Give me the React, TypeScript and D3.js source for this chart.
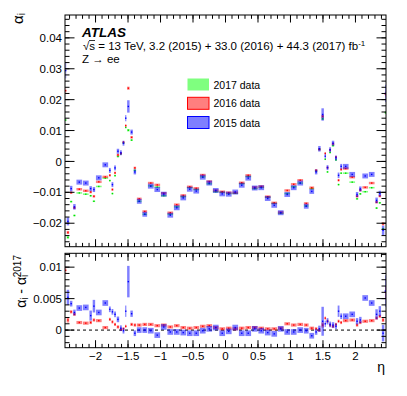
import React from 'react';
import * as d3 from 'd3';

// eta bin edges (68 bins)
const etaEdges = [
  -2.47, -2.45, -2.4, -2.35, -2.3, -2.2, -2.1, -2.05, -2.0, -1.9, -1.8, -1.76, -1.72, -1.68, -1.63, -1.59, -1.55,
  -1.52, -1.47, -1.42, -1.37, -1.285, -1.2, -1.1, -1.0, -0.9, -0.8, -0.7, -0.6, -0.5, -0.4, -0.3, -0.2, -0.1, 0,
  0.1, 0.2, 0.3, 0.4, 0.5, 0.6, 0.7, 0.8, 0.9, 1.0, 1.1, 1.2, 1.285, 1.37, 1.42, 1.47, 1.52, 1.55, 1.59, 1.63,
  1.68, 1.72, 1.76, 1.8, 1.9, 2.0, 2.05, 2.1, 2.2, 2.3, 2.35, 2.4, 2.45, 2.47,
];

const alpha2015 = [
  0.0294, -0.0194, -0.0088, -0.0147, -0.0067, -0.0070, -0.0088, -0.0091, -0.0053, -0.0011, -0.0029, -0.0075,
  -0.0021, 0.0033, 0.0028, 0.0059, 0.0140, 0.0178, 0.0095, -0.0034, -0.0129, -0.0171, -0.0080, -0.0091, -0.0106,
  -0.0174, -0.0150, -0.0118, -0.0090, -0.0096, -0.0051, -0.0070, -0.0094, -0.0105,
  -0.0106, -0.0099, -0.0077, -0.0054, -0.0086, -0.0085, -0.0120, -0.0142, -0.0166, -0.0107, -0.0085, -0.0070,
  -0.0145, -0.0097, -0.0034, 0.0041, 0.0152, 0.0017, -0.0020, 0.0038, 0.0059, 0.0011, -0.0045, -0.0016, -0.0016,
  -0.0042, -0.0107, -0.0089, -0.0047, -0.0042, -0.0126, -0.0104, -0.0223, 0.0220,
];
const alpha2016 = [
  0.0229, -0.0230, -0.0101, -0.0150, -0.0090, -0.0095, -0.0099, -0.0113, -0.0066, -0.0050, -0.0045, -0.0091,
  -0.0037, 0.0021, 0.0026, 0.0062, 0.0116, 0.0237, 0.0078, -0.0021, -0.0121, -0.0162, -0.0070, -0.0076, -0.0103,
  -0.0166, -0.0140, -0.0110, -0.0082, -0.0087, -0.0044, -0.0065, -0.0094, -0.0098,
  -0.0101, -0.0101, -0.0069, -0.0045, -0.0084, -0.0081, -0.0114, -0.0134, -0.0165, -0.0094, -0.0074, -0.0061,
  -0.0136, -0.0085, -0.0029, 0.0039, 0.0146, 0.0026, -0.0020, 0.0037, 0.0057, 0.0014, -0.0061, -0.0026, -0.0023,
  -0.0051, -0.0113, -0.0093, -0.0084, -0.0070, -0.0132, -0.0112, -0.0202, 0.0218,
];
const alpha2017 = [
  0.0134, -0.0246, -0.0130, -0.0175, -0.0102, -0.0106, -0.0111, -0.0129, -0.0081, -0.0054, -0.0062, -0.0104,
  -0.0046, 0.0016, 0.0025, 0.0060, 0.0110, 0.0101, 0.0069, -0.0029, -0.0129, -0.0171, -0.0079, -0.0083, -0.0111,
  -0.0171, -0.0147, -0.0114, -0.0085, -0.0091, -0.0050, -0.0072, -0.0098, -0.0100,
  -0.0104, -0.0103, -0.0072, -0.0049, -0.0088, -0.0084, -0.0116, -0.0136, -0.0168, -0.0104, -0.0082, -0.0070,
  -0.0144, -0.0088, -0.0031, 0.0039, 0.0138, 0.0007, -0.0034, 0.0029, 0.0051, 0.0005, -0.0075, -0.0038, -0.0038,
  -0.0067, -0.0121, -0.0105, -0.0098, -0.0085, -0.0151, -0.0134, -0.0218, 0.0158,
];
const err2015 = [
  0.0025, 0.0013, 0.0009, 0.0009, 0.0008, 0.0008, 0.0008, 0.0008, 0.0008, 0.0008, 0.0008, 0.0008, 0.0008, 0.0008,
  0.0008, 0.0008, 0.0010, 0.0020, 0.0008, 0.0008, 0.0008, 0.0008, 0.0008, 0.0008, 0.0008, 0.0008, 0.0008, 0.0008,
  0.0008, 0.0008, 0.0008, 0.0008, 0.0008, 0.0008, 0.0008, 0.0008, 0.0008, 0.0008, 0.0008, 0.0008, 0.0008, 0.0008,
  0.0008, 0.0008, 0.0008, 0.0008, 0.0008, 0.0008, 0.0008, 0.0009, 0.0020, 0.0008, 0.0008, 0.0008, 0.0008, 0.0008,
  0.0009, 0.0008, 0.0008, 0.0008, 0.0008, 0.0008, 0.0008, 0.0008, 0.0009, 0.0009, 0.0015, 0.0028,
];
const err2016 = [
  0.0007, 0.0005, 0.0004, 0.0004, 0.0004, 0.0004, 0.0004, 0.0004, 0.0004, 0.0004, 0.0004, 0.0004, 0.0004, 0.0004,
  0.0004, 0.0004, 0.0004, 0.0005, 0.0004, 0.0004, 0.0004, 0.0004, 0.0004, 0.0004, 0.0004, 0.0004, 0.0004, 0.0004,
  0.0004, 0.0004, 0.0004, 0.0004, 0.0004, 0.0004, 0.0004, 0.0004, 0.0004, 0.0004, 0.0004, 0.0004, 0.0004, 0.0004,
  0.0004, 0.0004, 0.0004, 0.0004, 0.0004, 0.0004, 0.0004, 0.0004, 0.0005, 0.0004, 0.0004, 0.0004, 0.0004, 0.0004,
  0.0004, 0.0004, 0.0004, 0.0004, 0.0004, 0.0004, 0.0004, 0.0004, 0.0004, 0.0004, 0.0005, 0.0008,
];
const err2017 = [
  0.0004, 0.0004, 0.00025, 0.00025, 0.00025, 0.00025, 0.00025, 0.00025, 0.00025, 0.00025, 0.00025, 0.00025,
  0.00025, 0.00025, 0.00025, 0.00025, 0.00025, 0.0004, 0.00025, 0.00025, 0.00025, 0.00025, 0.00025, 0.00025,
  0.00025, 0.00025, 0.00025, 0.00025, 0.00025, 0.00025, 0.00025, 0.00025, 0.00025, 0.00025, 0.00025, 0.00025,
  0.00025, 0.00025, 0.00025, 0.00025, 0.00025, 0.00025, 0.00025, 0.00025, 0.00025, 0.00025, 0.00025, 0.00025,
  0.00025, 0.00025, 0.0004, 0.00025, 0.00025, 0.00025, 0.00025, 0.00025, 0.00025, 0.00025, 0.00025, 0.00025,
  0.00025, 0.00025, 0.00025, 0.00025, 0.00025, 0.00025, 0.0003, 0.0005,
];

// ratio pad: alpha_i - alpha_i(2017)
const diff2015 = [
  0.0160, 0.0052, 0.0042, 0.0028, 0.0035, 0.0036, 0.0023, 0.0038, 0.0028, 0.0043, 0.0033, 0.0029, 0.0025, 0.0017,
  0.0003, -0.0001, 0.0030, 0.0077, 0.0026, -0.0005, 0.0000, 0.0000, -0.0001, -0.0008, 0.0005, -0.0003, -0.0003,
  -0.0004, -0.0005, -0.0005, -0.0001, 0.0002, 0.0004, -0.0005,
  -0.0002, 0.0004, -0.0005, -0.0005, 0.0002, -0.0001, -0.0004, -0.0006, 0.0002, -0.0003, -0.0003, 0.0000, -0.0001,
  -0.0009, -0.0003, 0.0002, 0.0014, 0.0010, 0.0014, 0.0009, 0.0008, 0.0006, 0.0030, 0.0022, 0.0022, 0.0025,
  0.0014, 0.0016, 0.0051, 0.0043, 0.0025, 0.0030, -0.0005, 0.0062,
];
const diff2016 = [
  0.0095, 0.0016, 0.0029, 0.0025, 0.0012, 0.0011, 0.0012, 0.0016, 0.0015, 0.0004, 0.0017, 0.0013, 0.0009, 0.0005,
  0.0001, 0.0002, 0.0006, 0.0136, 0.0009, 0.0008, 0.0008, 0.0009, 0.0009, 0.0007, 0.0008, 0.0005, 0.0007, 0.0004,
  0.0003, 0.0004, 0.0006, 0.0007, 0.0004, 0.0002,
  0.0003, 0.0002, 0.0003, 0.0004, 0.0004, 0.0003, 0.0002, 0.0002, 0.0003, 0.0010, 0.0008, 0.0009, 0.0008, 0.0003,
  0.0002, 0.0000, 0.0008, 0.0019, 0.0014, 0.0008, 0.0006, 0.0009, 0.0014, 0.0012, 0.0015, 0.0016, 0.0008, 0.0012,
  0.0014, 0.0015, 0.0019, 0.0022, 0.0016, 0.0060,
];
const errDiff2015 = [
  0.0025, 0.0012, 0.00045, 0.00045, 0.00045, 0.00045, 0.0008, 0.0010, 0.00045, 0.00045, 0.00045, 0.00045, 0.00045,
  0.00045, 0.00045, 0.00045, 0.0009, 0.0025, 0.0005, 0.00045, 0.00045, 0.00045, 0.00045, 0.00045, 0.00045, 0.00045,
  0.00045, 0.00045, 0.00045, 0.00045, 0.00045, 0.00045, 0.00045, 0.00045, 0.00045, 0.00045, 0.00045, 0.00045,
  0.00045, 0.00045, 0.00045, 0.00045, 0.00045, 0.00045, 0.00045, 0.00045, 0.00045, 0.00045, 0.00045, 0.0005,
  0.0023, 0.0005, 0.0005, 0.00045, 0.00045, 0.00045, 0.0009, 0.00045, 0.00045, 0.00045, 0.0005, 0.0005, 0.00045,
  0.00045, 0.0008, 0.0008, 0.0013, 0.0025,
];
const errDiff2016 = [
  0.0006, 0.0004, 0.00025, 0.00025, 0.00025, 0.00025, 0.00025, 0.00025, 0.00025, 0.00025, 0.00025, 0.00025,
  0.00025, 0.00025, 0.00025, 0.00025, 0.00025, 0.0006, 0.00025, 0.00025, 0.00025, 0.00025, 0.00025, 0.00025,
  0.00025, 0.00025, 0.00025, 0.00025, 0.00025, 0.00025, 0.00025, 0.00025, 0.00025, 0.00025, 0.00025, 0.00025,
  0.00025, 0.00025, 0.00025, 0.00025, 0.00025, 0.00025, 0.00025, 0.00025, 0.00025, 0.00025, 0.00025, 0.00025,
  0.00025, 0.00025, 0.0004, 0.00025, 0.00025, 0.00025, 0.00025, 0.00025, 0.00025, 0.00025, 0.00025, 0.00025,
  0.00025, 0.00025, 0.00025, 0.00025, 0.00025, 0.00025, 0.0003, 0.0010,
];

const xTickValues = [-2, -1.5, -1, -0.5, 0, 0.5, 1, 1.5, 2];
const xTickLabels = ['−2', '−1.5', '−1', '−0.5', '0', '0.5', '1', '1.5', '2'];
const yTopTickValues = [-0.02, -0.01, 0, 0.01, 0.02, 0.03, 0.04];
const yTopTickLabels = ['−0.02', '−0.01', '0', '0.01', '0.02', '0.03', '0.04'];
const yBotTickValues = [0, 0.005, 0.01];
const yBotTickLabels = ['0', '0.005', '0.01'];
const legendLabels = ['2017 data', '2016 data', '2015 data'];

const FONT = '"Liberation Sans", Arial, Helvetica, sans-serif';
const L = 65;
const R = 386;
const TOP = { y0: 15, y1: 246.7 };
const BOT = { y0: 253.3, y1: 347.7 };

const x = d3.scaleLinear().domain([-2.47, 2.47]).range([L, R]);
const yTop = d3.scaleLinear().domain([-0.0276, 0.0474]).range([TOP.y1, TOP.y0]);
const yBot = d3.scaleLinear().domain([-0.0028, 0.0122]).range([BOT.y1, BOT.y0]);

const xMinor = d3.range(-24, 25).map((i) => i / 10);
const yTopMinor = d3.range(-13, 24).map((i) => i * 0.002);
const yBotMinor = d3.range(-2, 13).map((i) => i * 0.001);

const Series = ({ values, errors, y, fill, dot }: any) => (
  <g>
    {values.map((v: number, i: number) => {
      const x0 = x(etaEdges[i]) + 0.4;
      const x1 = x(etaEdges[i + 1]) - 0.4;
      const t = y(v + errors[i]);
      const b = y(v - errors[i]);
      return (
        <g key={i}>
          <rect x={x0} y={t} width={Math.max(x1 - x0, 0.8)} height={Math.max(b - t, 1)} fill={fill} />
          <rect x={(x0 + x1) / 2 - 0.7} y={y(v) - 0.7} width={1.4} height={1.4} fill={dot} />
        </g>
      );
    })}
  </g>
);

const Frame = ({ y, pad, major, labels, minor }: any) => {
  const [lo, hi] = y.domain();
  return (
    <g stroke="black" strokeWidth={1}>
      {minor.filter((v: number) => v >= lo && v <= hi).map((v: number) => (
        <g key={'m' + v}>
          <line x1={L} x2={L + 4.5} y1={y(v)} y2={y(v)} />
          <line x1={R} x2={R - 4.5} y1={y(v)} y2={y(v)} />
        </g>
      ))}
      {major.map((v: number) => (
        <g key={'M' + v}>
          <line x1={L} x2={L + 9.5} y1={y(v)} y2={y(v)} />
          <line x1={R} x2={R - 9.5} y1={y(v)} y2={y(v)} />
        </g>
      ))}
      {xMinor.map((v) => (
        <g key={'xm' + v}>
          <line x1={x(v)} x2={x(v)} y1={pad.y0} y2={pad.y0 + 3.8} />
          <line x1={x(v)} x2={x(v)} y1={pad.y1} y2={pad.y1 - 3.8} />
        </g>
      ))}
      {xTickValues.map((v) => (
        <g key={'xM' + v}>
          <line x1={x(v)} x2={x(v)} y1={pad.y0} y2={pad.y0 + 7.5} />
          <line x1={x(v)} x2={x(v)} y1={pad.y1} y2={pad.y1 - 7.5} />
        </g>
      ))}
      <rect x={L} y={pad.y0} width={R - L} height={pad.y1 - pad.y0} fill="none" />
      <g stroke="none" fill="black" fontFamily={FONT} fontSize={11.5} textAnchor="end">
        {major.map((v: number, i: number) => (
          <text key={'l' + v} x={62} y={y(v)} dy="0.36em">{labels[i]}</text>
        ))}
      </g>
    </g>
  );
};

const legendFills = ['rgba(0,255,0,0.5)', 'rgba(255,0,0,0.5)', 'rgba(0,0,255,0.5)'];
const legendStrokes = ['none', '#ff0000', '#0000ff'];

export default function App() {
  return (
    <svg width={407} height={396} style={{ position: 'absolute', left: 0, top: 0, background: 'white' }}>
      <defs>
        <clipPath id="clipTop"><rect x={L} y={TOP.y0} width={R - L} height={TOP.y1 - TOP.y0} /></clipPath>
        <clipPath id="clipBot"><rect x={L} y={BOT.y0} width={R - L} height={BOT.y1 - BOT.y0} /></clipPath>
      </defs>
      <rect width={407} height={396} fill="white" />

      {/* upper pad */}
      <g clipPath="url(#clipTop)">
        <Series values={alpha2017} errors={err2017} y={yTop} fill="rgba(0,255,0,0.5)" dot="#00dd00" />
        <Series values={alpha2016} errors={err2016} y={yTop} fill="rgba(255,0,0,0.5)" dot="#ff0000" />
        <Series values={alpha2015} errors={err2015} y={yTop} fill="rgba(0,0,255,0.5)" dot="#0000ff" />
      </g>
      <Frame y={yTop} pad={TOP} major={yTopTickValues} labels={yTopTickLabels} minor={yTopMinor} />

      {/* lower pad */}
      <g clipPath="url(#clipBot)">
        <line x1={L} x2={R} y1={yBot(0)} y2={yBot(0)} stroke="black" strokeDasharray="3,3" strokeWidth={1} />
        <Series values={diff2016} errors={errDiff2016} y={yBot} fill="rgba(255,0,0,0.5)" dot="#ff0000" />
        <Series values={diff2015} errors={errDiff2015} y={yBot} fill="rgba(0,0,255,0.5)" dot="#0000ff" />
      </g>
      <Frame y={yBot} pad={BOT} major={yBotTickValues} labels={yBotTickLabels} minor={yBotMinor} />

      <g fontFamily={FONT} fontSize={11.5} textAnchor="middle">
        {xTickValues.map((v, i) => (
          <text key={v} x={x(v)} y={359.5}>{xTickLabels[i]}</text>
        ))}
      </g>
      <text x={385} y={371.5} fontFamily={FONT} fontSize={14} textAnchor="end">η</text>

      {/* axis titles */}
      <text transform="translate(23,13) rotate(-90)" fontFamily={FONT} fontSize={15} textAnchor="end">
        α<tspan fontSize={10} dy={1.5}>i</tspan>
      </text>
      <text transform="translate(26,255) rotate(-90)" fontFamily={FONT} fontSize={14} textAnchor="end">
        α<tspan fontSize={10} dy={2}>i</tspan>
        <tspan dy={-2}> - α</tspan>
        <tspan fontSize={10} dy={2}>i</tspan>
        <tspan fontSize={10} dx={-2.5} dy={-7}>2017</tspan>
      </text>

      {/* labels */}
      <text x={82} y={36.7} fontFamily={FONT} fontSize={13.5} fontWeight="bold" fontStyle="italic">ATLAS</text>
      <text x={83} y={50} fontFamily={FONT} fontSize={11.5}>
        √s = 13 TeV, 3.2 (2015) + 33.0 (2016) + 44.3 (2017) fb<tspan fontSize={8} dy={-4.5}>-1</tspan>
      </text>
      <line x1={89} x2={95} y1={40.5} y2={40.5} stroke="black" strokeWidth={0.8} />
      <text x={82} y={63.3} fontFamily={FONT} fontSize={11.5}>Z → ee</text>

      {/* legend */}
      {legendLabels.map((lab, i) => {
        const cy = [84.5, 103.3, 122.5][i];
        return (
          <g key={lab}>
            <rect x={187.5} y={cy - 6} width={21.5} height={12} fill={legendFills[i]} stroke={legendStrokes[i]} strokeWidth={1} />
            <text x={213.5} y={cy + 4} fontFamily={FONT} fontSize={10.5}>{lab}</text>
          </g>
        );
      })}
    </svg>
  );
}
